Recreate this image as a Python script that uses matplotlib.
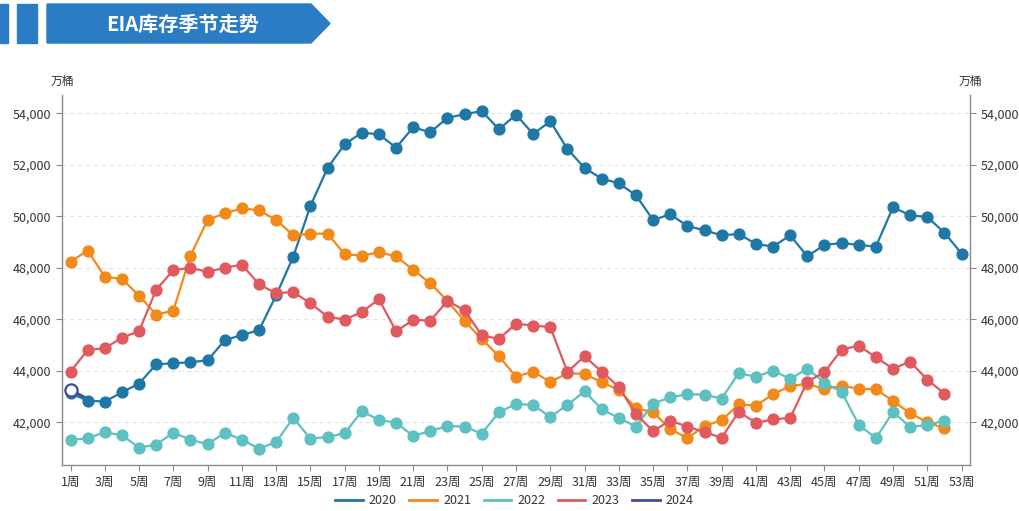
import matplotlib
matplotlib.use('Agg')
import matplotlib.pyplot as plt
from matplotlib.patches import Polygon, Rectangle
from matplotlib.lines import Line2D
from matplotlib.ticker import FuncFormatter

plt.rcParams['font.family'] = ['Noto Sans CJK SC', 'DejaVu Sans']

weeks = list(range(1, 54))
week_labels = [str(w) + '周' for w in weeks]

y2020 = [43126, 42842, 42803, 43165, 43502, 44252, 44291, 44330, 44408, 45184,
         45392, 45573, 46932, 48434, 50401, 51877, 52796, 53249, 53184, 52667,
         53456, 53262, 53832, 53961, 54091, 53379, 53948, 53197, 53689, 52615,
         51877, 51463, 51281, 50816, 49858, 50078, 49625, 49456, 49262, 49314,
         48926, 48822, 49262, 48447, 48887, 48964, 48887, 48822, 50350, 50039,
         49974, 49366, 48550]
y2021 = [48240, 48667, 47657, 47566, 46919, 46181, 46337, 48473, 49858, 50117,
         50311, 50233, 49858, 49262, 49327, 49327, 48524, 48473, 48602, 48447,
         47916, 47398, 46712, 45922, 45236, 44563, 43774, 43968, 43566, 43903,
         43877, 43554, 43256, 42544, 42388, 41741, 41378, 41857, 42077, 42699,
         42647, 43087, 43411, 43489, 43295, 43411, 43308, 43282, 42829, 42350,
         42000, 41767]
y2022 = [41314, 41378, 41611, 41495, 41016, 41132, 41598, 41326, 41145, 41598,
         41326, 40977, 41236, 42168, 41365, 41430, 41573, 42427, 42091, 41987,
         41469, 41663, 41857, 41831, 41560, 42388, 42712, 42673, 42207, 42673,
         43204, 42505, 42168, 41831, 42725, 42971, 43087, 43074, 42919, 43916,
         43761, 44007, 43683, 44084, 43541, 43178, 41909, 41378, 42401, 41819,
         41896, 42064]
y2023 = [43968, 44809, 44874, 45288, 45534, 47152, 47903, 48006, 47838, 48006,
         48123, 47359, 47010, 47061, 46621, 46104, 45987, 46285, 46777, 45534,
         45974, 45948, 46712, 46350, 45379, 45236, 45832, 45754, 45702, 43955,
         44563, 43968, 43372, 42311, 41663, 42064, 41831, 41624, 41391, 42414,
         41974, 42116, 42168, 43579, 43942, 44822, 44977, 44524, 44084, 44356,
         43657, 43113]
y2024 = [43256, 42900]

series = [('2020', y2020, '#1f77a6'),
          ('2021', y2021, '#f28a1a'),
          ('2022', y2022, '#5ec0c0'),
          ('2023', y2023, '#e0595e')]
color_2024 = '#434a99'

fig = plt.figure(figsize=(10.19, 5.11), dpi=100)
ax = fig.add_axes([0.0608, 0.090, 0.8912, 0.724])

for name, vals, col in series:
    ax.plot(weeks[:len(vals)], vals, color=col, lw=1.6, marker='o', ms=7.8,
            mec=col, mfc=col, zorder=3)
ax.plot(weeks[:len(y2024)], y2024, color=color_2024, lw=2.2, zorder=2.5)
ax.plot(weeks[:1], y2024[:1], ls='none', marker='o', ms=8.8, mfc='white',
        mec=color_2024, mew=1.6, zorder=4)

ax.set_xlim(0.5, 53.5)
ax.set_ylim(40340, 54710)
ax.set_xticks(weeks[::2])
ax.set_xticklabels(week_labels[::2])
yt = list(range(42000, 54001, 2000))
ax.set_yticks(yt)
ax.yaxis.set_major_formatter(FuncFormatter(lambda v, p: '{:,.0f}'.format(v)))
ax.grid(axis='y', ls=(0, (4, 3)), color='#e4e4e4', lw=0.8)
ax.set_axisbelow(True)

ax.spines['top'].set_visible(False)
for s in ['left', 'right', 'bottom']:
    ax.spines[s].set_color('#8a8a8a')
    ax.spines[s].set_linewidth(1.0)
ax.tick_params(axis='both', colors='#8a8a8a', labelcolor='#333333', labelsize=9, length=4)
ax.tick_params(axis='y', right=True, labelright=True)

ax.text(0.0, 1.02, '万桶', transform=ax.transAxes, ha='center', va='bottom',
        fontsize=8.5, color='#333333')
ax.text(1.0, 1.02, '万桶', transform=ax.transAxes, ha='center', va='bottom',
        fontsize=8.5, color='#333333')

handles = [Line2D([], [], color=col, lw=2) for _, _, col in series]
handles.append(Line2D([], [], color=color_2024, lw=2))
labels = [name for name, _, _ in series] + ['2024']
leg = fig.legend(handles, labels, loc='center', bbox_to_anchor=(0.505, 0.02), ncol=5,
                 frameon=False, fontsize=9, handlelength=2.2, columnspacing=1.0,
                 handletextpad=0.5)
for t in leg.get_texts():
    t.set_color('#333333')

# header banner
hdr = fig.add_axes([0, 0, 1, 1], zorder=-1)
hdr.set_xlim(0, 1019)
hdr.set_ylim(511, 0)
hdr.axis('off')
blue = '#2a7dc4'
hdr.add_patch(Rectangle((0, 4), 8, 39, color=blue))
hdr.add_patch(Rectangle((17, 4), 20, 39, color=blue))
hdr.add_patch(Polygon([(47, 4), (311, 4), (330, 23.5), (311, 43), (47, 43)], color=blue))
hdr.text(183, 24, 'EIA库存季节走势', color='white', fontsize=14.5, fontweight='bold',
         ha='center', va='center')

fig.savefig('out.png', dpi=100)
